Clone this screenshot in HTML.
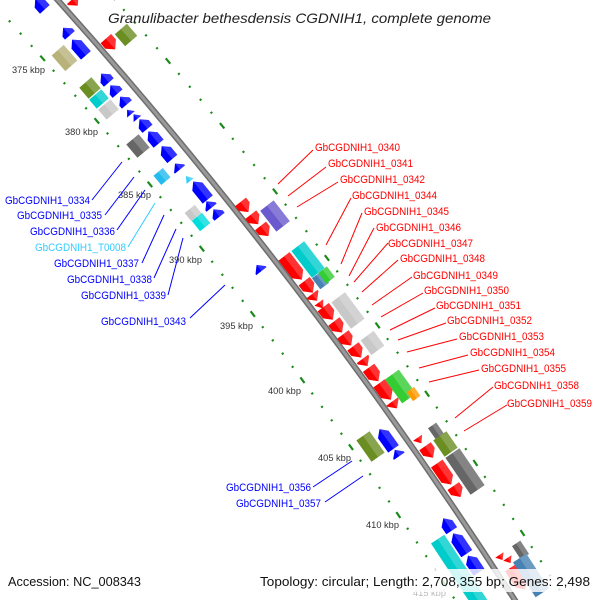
<!DOCTYPE html>
<html><head><meta charset="utf-8"><style>
html,body{margin:0;padding:0;background:#fff;width:600px;height:600px;overflow:hidden}
svg{display:block;font-family:"Liberation Sans",sans-serif;overflow:hidden}
</style></head><body>
<svg id="s" width="600" height="600" viewBox="0 0 600 600" xmlns="http://www.w3.org/2000/svg">
<rect width="600" height="600" fill="#fff"/>
<g id="g"></g>
<text x="108" y="23" font-size="14" font-style="italic" fill="#222" textLength="383" lengthAdjust="spacingAndGlyphs">Granulibacter bethesdensis CGDNIH1, complete genome</text>
<rect x="0" y="569" width="600" height="23" fill="#fff" fill-opacity="0.82"/>
<text x="8" y="586" font-size="13" fill="#111" textLength="133" lengthAdjust="spacingAndGlyphs">Accession: NC_008343</text>
<text x="260" y="586" font-size="13" fill="#111" textLength="330" lengthAdjust="spacingAndGlyphs">Topology: circular; Length: 2,708,355 bp; Genes: 2,498</text>
</svg>
<script>
(function(){
var CX=-3516,CY=3197,R0=4795,RI=4745,RO=4838,STEP=0.003488;
var out=[];
function P(t,r){return [CX+r*Math.cos(t),CY+r*Math.sin(t)];}
var a0=Math.atan2(-10-CY,40-CX),a1=Math.atan2(620-CY,540-CX);
var p0=P(a0-0.01,R0),p1=P(a1+0.01,R0);
out.push('<path d="M'+p0[0]+' '+p0[1]+' A'+R0+' '+R0+' 0 0 1 '+p1[0]+' '+p1[1]+'" fill="none" stroke="#6e6e6e" stroke-width="6"/>');
out.push('<path d="M'+p0[0]+' '+p0[1]+' A'+R0+' '+R0+' 0 0 1 '+p1[0]+' '+p1[1]+'" fill="none" stroke="#999" stroke-width="3"/>');
function ring(r,a5){
  for(var k=-12;k<60;k++){
    var t=a5+k*STEP; var p=P(t,r);
    if(p[1]<-5||p[1]>605)continue;
    var tx=-Math.sin(t),ty=Math.cos(t);
    var len=(k%5===0)?7:2;
    out.push('<line x1="'+(p[0]-tx*len/2)+'" y1="'+(p[1]-ty*len/2)+'" x2="'+(p[0]+tx*len/2)+'" y2="'+(p[1]+ty*len/2)+'" stroke="#1a8a1a" stroke-width="2.2"/>');
  }
}
ring(RI,Math.atan2(58-CY,43-CX));
ring(RO,Math.atan2(61-CY,168-CX));
function F(x1,y1,x2,y2,col,type,W){
  W=(W||13)+1;
  var cx=(x1+x2)/2,cy=(y1+y2)/2,t=Math.atan2(cy-CY,cx-CX);
  var tx=-Math.sin(t),ty=Math.cos(t),nx=Math.cos(t),ny=Math.sin(t);
  var L=((x2-x1)+(y2-y1)-W*(Math.abs(nx)+Math.abs(ny)))/(Math.abs(tx)+Math.abs(ty))+2;
  if(L<W*0.6)L=W*0.6;
  var h=Math.min(L,W*0.5),l=L/2,w=W/2,pts,half;
  if(type==='b'){pts=[[-l,-w],[l,-w],[l,w],[-l,w]];half=[[-l,0],[l,0],[l,w],[-l,w]];}
  else if(type==='f'){pts=[[-l,-w],[l-h,-w],[l,0],[l-h,w],[-l,w]];half=[[-l,0],[l,0],[l-h,w],[-l,w]];}
  else if(type==='r'){pts=[[l,-w],[-l+h,-w],[-l,0],[-l+h,w],[l,w]];half=[[l,0],[-l,0],[-l+h,w],[l,w]];}
  else if(type==='t'){pts=[[-l,-w],[l,0],[-l,w]];half=[[-l,0],[l,0],[-l,w]];}
  else {pts=[[l,-w],[-l,0],[l,w]];half=[[l,0],[-l,0],[l,w]];}
  function s(a){return a.map(function(q){return (cx+q[0]*tx+q[1]*nx).toFixed(1)+','+(cy+q[0]*ty+q[1]*ny).toFixed(1);}).join(' ');}
  out.push('<polygon points="'+s(pts)+'" fill="'+col+'"/>');
  out.push('<polygon points="'+s(half)+'" fill="#fff" fill-opacity="0.2"/>');
}
var B='#0000ff',RD='#ff0000';
[[30,-4,50,12],[58,25,75,38],[68,36,90,59],[97,70,113,86],[106,82,122,97],[116,93,131,108],[135,116,152,132],[144,128,163,147],[157,143,177,162],[171,161,184,172],[187,180,214,201],[202,198,216,211],[209,206,224,220],[253,262,265,274],[375,426,398,452],[390,447,404,459],[438,516,457,533],[448,531,472,556],[463,553,484,575]].forEach(function(a){F(a[0],a[1],a[2],a[3],B,'r',12);});
F(125,108,133,116,B,'T',9);F(131,112,140,121,B,'T',9);
F(183,174,193,183,'#33ccff','T',8);
F(52,46,77,70,'#b8b27a','b',15);F(80,78,100,98,'#6b8e23','b',15);F(90,90,108,108,'#00cccc','b',15);F(99,100,118,119,'#c8c8c8','b',15);
F(127,135,149,157,'#666666','b',15);F(154,169,170,184,'#22bbee','b',11);F(185,206,201,220,'#c8c8c8','b',12);F(193,213,209,231,'#00dddd','b',12);
F(357,432,384,461,'#6b8e23','b',15);F(430,537,492,612,'#00cccc','b',15);
[[68,-3,82,8],[101,35,120,53],[236,198,253,216],[246,211,263,228],[256,222,273,240],[279,253,307,283],[299,278,318,296],[308,291,321,304],[318,304,338,323],[329,318,347,336],[338,331,356,349],[348,343,366,361],[357,356,373,369],[363,365,384,384],[374,380,396,403],[387,399,402,411],[420,443,438,461],[432,460,456,488],[448,483,466,500],[505,565,531,592]].forEach(function(a){F(a[0],a[1],a[2],a[3],RD,'f',13);});
F(315,300,327,311,RD,'t',10);F(414,435,425,446,RD,'t',10);F(497,553,505,562,RD,'t',9);F(505,556,513,565,RD,'t',9);
F(115,25,137,45,'#6b8e23','b',15);F(261,201,289,231,'#6a5acd','b',16);F(292,242,324,277,'#00cccc','b',15);
F(313,272,328,289,'#4682b4','b',10);F(319,267,334,283,'#33cc33','b',10);F(332,293,364,328,'#c8c8c8','b',16);F(361,332,384,354,'#c8c8c8','b',15);
F(387,369,414,404,'#33cc33','b',16);F(407,388,420,400,'#ff9900','b',8);F(428,424,444,438,'#666666','b',9);F(434,432,457,456,'#6b8e23','b',15);
F(446,449,484,494,'#666666','b',16);F(511,543,530,557,'#666666','b',9);F(517,551,545,600,'#4682b4','b',15);
[['375',12,70],['380',65,132],['385',118,195],['390',169,260],['395',220,326],['400',268,391],['405',318,458],['410',366,525],['415',413,593]].forEach(function(a){
 out.push('<text x="'+a[1]+'" y="'+(a[2]+3)+'" font-size="9" fill="'+(a[0]==='415'?'#bbb':'#333')+'" textLength="33" lengthAdjust="spacingAndGlyphs">'+a[0]+' kbp</text>');});
[['0334',90,200,92,200,122,162],['0335',102,215,105,215,134,177],['0336',115,231,117,230,145,190],['T0008',126,247,128,247,155,203],['0337',139,263,142,263,164,215],['0338',152,279,154,278,176,229],['0339',166,295,168,295,183,238],['0343',186,321,190,318,225,285],['0356',311,487,313,487,352,461],['0357',321,503,325,502,363,476]].forEach(function(a){
 var c=a[0]==='T0008'?'#33ccff':'#0000ff',w=a[0]==='T0008'?91:85;
 out.push('<line x1="'+a[3]+'" y1="'+a[4]+'" x2="'+a[5]+'" y2="'+a[6]+'" stroke="'+c+'" stroke-width="1"/>');
 out.push('<text x="'+(a[1]-w)+'" y="'+(a[2]+4)+'" font-size="11" fill="'+c+'" textLength="'+w+'" lengthAdjust="spacingAndGlyphs">GbCGDNIH1_'+a[0]+'</text>');});
[['0340',315,147,313,150,278,184],['0341',328,163,326,167,288,196],['0342',340,179,338,182,297,207],['0344',352,195,351,198,326,245],['0345',364,211,362,213,341,264],['0346',376,227,374,228,349,276],['0347',388,243,388,243,354,282],['0348',400,258,398,260,362,292],['0349',413,275,412,277,372,305],['0350',424,290,423,293,381,317],['0351',436,305,435,308,390,330],['0352',447,320,446,323,398,340],['0353',459,336,457,339,407,352],['0354',470,352,468,355,419,368],['0355',481,368,479,370,429,382],['0358',494,385,493,387,455,418],['0359',507,403,507,405,464,431]].forEach(function(a){
 out.push('<line x1="'+a[3]+'" y1="'+a[4]+'" x2="'+a[5]+'" y2="'+a[6]+'" stroke="#ff0000" stroke-width="1"/>');
 out.push('<text x="'+a[1]+'" y="'+(a[2]+4)+'" font-size="11" fill="#ff0000" textLength="85" lengthAdjust="spacingAndGlyphs">GbCGDNIH1_'+a[0]+'</text>');});
document.getElementById('g').innerHTML=out.join('');
})();
</script>
</body></html>
